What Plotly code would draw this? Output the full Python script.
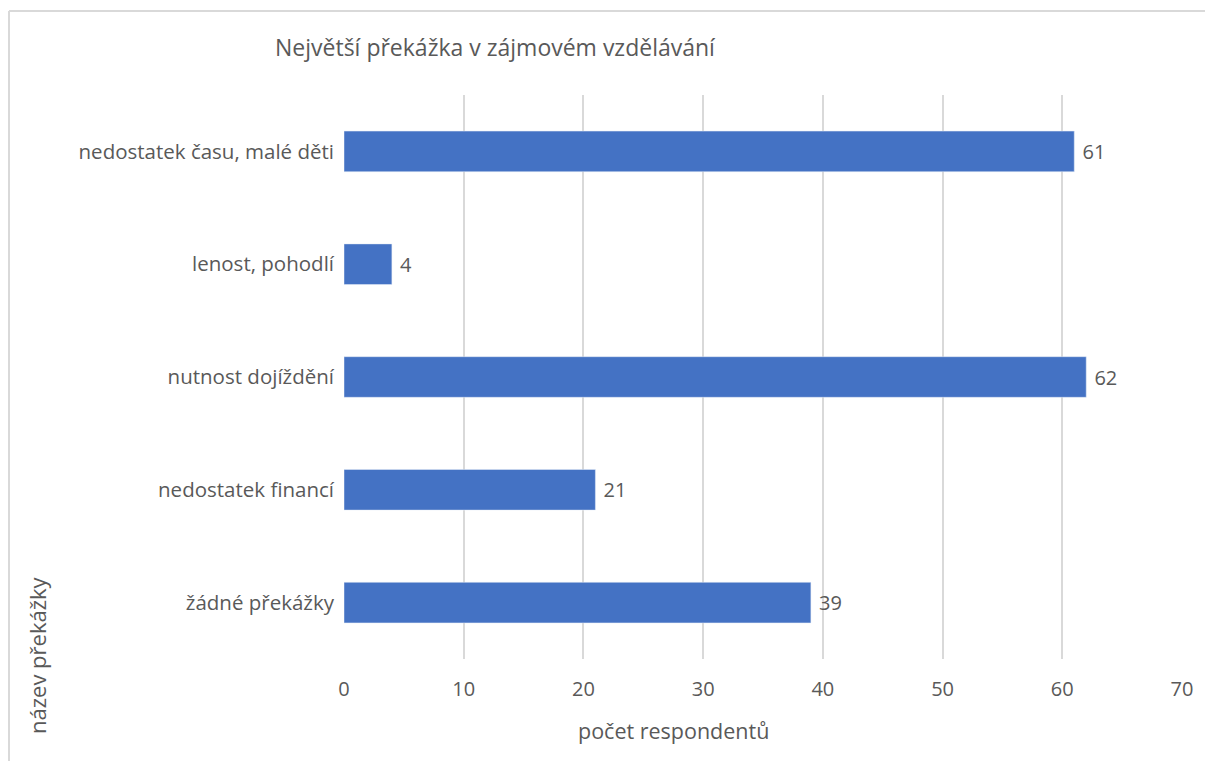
import plotly.graph_objects as go

# Data (top to bottom)
categories = [
    'nedostatek času, malé děti',
    'lenost, pohodlí',
    'nutnost dojíždění',
    'nedostatek financí',
    'žádné překážky',
]
values = [61, 4, 62, 21, 39]
x_ticks = [0, 10, 20, 30, 40, 50, 60, 70]

BAR_COLOR = '#4472C4'
TEXT_COLOR = '#595959'
GRID_COLOR = '#D9D9D9'
FONT = 'Open Sans'

# page body adds an 8px margin on every side, so keep the figure inside the window
W, H = 1197, 753
L, R, T, B = 336, 23, 87, 102
PW, PH = W - L - R, H - T - B


def px_x(x):
    return (x - L) / PW


def px_y(y):
    return (H - B - y) / PH


fig = go.Figure()
fig.add_trace(go.Bar(
    x=values,
    y=categories,
    orientation='h',
    marker=dict(color=BAR_COLOR),
    text=values,
    texttemplate=' %{x}',
    textposition='outside',
    textfont=dict(family=FONT, size=20, color=TEXT_COLOR),
    cliponaxis=False,
))

fig.update_layout(
    width=W,
    height=H,
    plot_bgcolor='white',
    paper_bgcolor='white',
    font=dict(family=FONT, size=20, color=TEXT_COLOR),
    margin=dict(l=L, r=R, t=T, b=B),
    bargap=0.64,
    showlegend=False,
    title=dict(
        text='Největší překážka v zájmovém vzdělávání',
        font=dict(family=FONT, size=23, color=TEXT_COLOR),
        x=267 / W, xanchor='left',
        y=1 - 40 / H, yanchor='middle',
    ),
)

fig.update_xaxes(
    range=[0, 70],
    tickvals=x_ticks,
    showgrid=True,
    gridcolor=GRID_COLOR,
    gridwidth=1.5,
    zeroline=False,
    showline=False,
    ticks='',
    ticklabelstandoff=16,
    tickfont=dict(family=FONT, size=20, color=TEXT_COLOR),
)

fig.update_yaxes(
    autorange='reversed',
    showgrid=False,
    showline=False,
    zeroline=False,
    ticks='',
    ticklabelstandoff=9,
    tickfont=dict(family=FONT, size=20.5, color=TEXT_COLOR),
)

# x-axis title
fig.add_annotation(
    text='počet respondentů',
    xref='paper', yref='paper',
    x=px_x(665), y=px_y(722),
    xanchor='center', yanchor='middle',
    showarrow=False,
    font=dict(family=FONT, size=21.5, color=TEXT_COLOR),
)

# rotated y-axis title, sitting low on the left like the original
fig.add_annotation(
    text='název překážky',
    xref='paper', yref='paper',
    x=px_x(29), y=px_y(647),
    xanchor='center', yanchor='middle',
    textangle=-90,
    showarrow=False,
    font=dict(family=FONT, size=22, color=TEXT_COLOR),
)

# light chart-area frame: only top and left edges are visible in the crop
frame = dict(color=GRID_COLOR, width=2)
fig.add_shape(type='line', xref='paper', yref='paper',
              x0=px_x(1), x1=px_x(W), y0=px_y(3), y1=px_y(3),
              line=frame, layer='below')
fig.add_shape(type='line', xref='paper', yref='paper',
              x0=px_x(1), x1=px_x(1), y0=px_y(3), y1=px_y(H),
              line=frame, layer='below')

fig.write_html('out.html')
